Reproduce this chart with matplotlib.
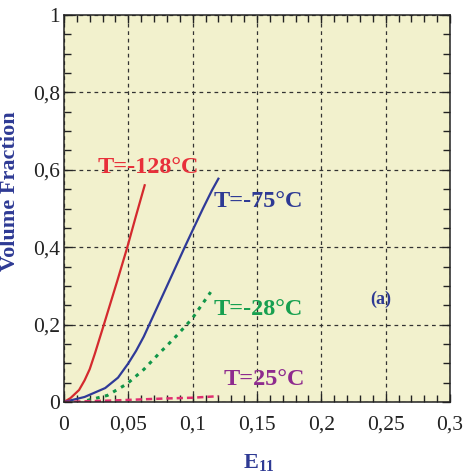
import numpy as np
import matplotlib.pyplot as plt
from matplotlib.ticker import MultipleLocator, FuncFormatter

# volume fraction vs strain E11 at four test temperatures
e_m128 = [0.0, 0.005, 0.0117, 0.016, 0.020, 0.024, 0.031, 0.0415, 0.0492, 0.0557, 0.0627]
vf_m128 = [0.0, 0.010, 0.031, 0.056, 0.085, 0.125, 0.200, 0.314, 0.400, 0.478, 0.560]

e_m75 = [0.0, 0.016, 0.032, 0.042, 0.050, 0.056, 0.062, 0.066, 0.078, 0.0938, 0.100, 0.108, 0.115, 0.120]
vf_m75 = [0.0, 0.013, 0.036, 0.063, 0.100, 0.132, 0.169, 0.198, 0.285, 0.400, 0.444, 0.500, 0.547, 0.577]

e_m28 = [0.018, 0.0337, 0.049, 0.062, 0.0738, 0.0855, 0.0995, 0.114]
vf_m28 = [0.004, 0.017, 0.047, 0.084, 0.125, 0.164, 0.215, 0.284]

e_25 = [0.0, 0.039, 0.078, 0.0995, 0.120]
vf_25 = [0.0, 0.004, 0.009, 0.011, 0.015]

labels = ['T=-128°C', 'T=-75°C', 'T=-28°C', 'T=25°C']

plt.rcParams['font.family'] = ['Liberation Serif', 'DejaVu Serif']
plt.rcParams['mathtext.fontset'] = 'custom'
plt.rcParams['mathtext.rm'] = 'Liberation Serif'
plt.rcParams['mathtext.bf'] = 'Liberation Serif:bold'

fig = plt.figure(figsize=(4.65, 4.75), dpi=100)
ax = fig.add_axes([64 / 465, 73 / 475, 386 / 465, 387 / 475])
ax.set_facecolor('#f2f1cd')

ax.plot(e_m128, vf_m128, color='#d42a2e', lw=1.6)
ax.plot(e_m75, vf_m75, color='#2f3a98', lw=1.6)
ax.plot(e_m28, vf_m28, color='#119648', lw=2.2, ls=(0, (1.2, 1.8)))
ax.plot(e_25, vf_25, color='#e03070', lw=1.8, ls=(0, (2.5, 1.6)))

bold = dict(fontweight='bold', fontsize=17.5, ha='center', va='center')
ax.text(0.0653, 0.605, labels[0], color='#e8303a', **bold)
ax.text(0.1508, 0.517, labels[1], color='#2e3a94', **bold)
ax.text(0.1508, 0.238, labels[2], color='#17a050', **bold)
ax.text(0.1554, 0.057, labels[3], color='#8e2b8e', **bold)
ax.text(0.246, 0.266, '(a)', color='#2e3a94', fontweight='bold', fontsize=13,
        ha='center', va='center')

ax.set_xlim(0, 0.3)
ax.set_ylim(0, 1)
ax.xaxis.set_major_locator(MultipleLocator(0.05))
ax.xaxis.set_minor_locator(MultipleLocator(0.01))
ax.yaxis.set_major_locator(MultipleLocator(0.2))
ax.yaxis.set_minor_locator(MultipleLocator(0.05))


def comma(v, pos):
    s = ('%.2f' % v).rstrip('0').rstrip('.')
    return s.replace('.', ',')


ax.xaxis.set_major_formatter(FuncFormatter(comma))
ax.yaxis.set_major_formatter(FuncFormatter(comma))
ax.tick_params(which='both', direction='in', top=True, right=True, width=1,
               labelsize=15.5, colors='#222222')
ax.tick_params(which='major', length=6)
ax.tick_params(which='minor', length=5)
ax.tick_params(axis='x', which='major', pad=10)
ax.tick_params(axis='y', which='major', pad=3)
ax.grid(True, which='major', color='#333333', ls=(0, (3, 3)), lw=0.9)
for s in ax.spines.values():
    s.set_linewidth(1.1)
    s.set_color('#222222')

ax.set_ylabel('Volume Fraction', color='#2e3a94', fontweight='bold', fontsize=16)
ax.yaxis.set_label_coords(-0.114, 0.545)
ax.set_xlabel(r'$\mathbf{E_{11}}$', color='#2e3a94', fontsize=16)
ax.xaxis.set_label_coords(0.506, -0.13)

fig.savefig('out.png', dpi=100)
